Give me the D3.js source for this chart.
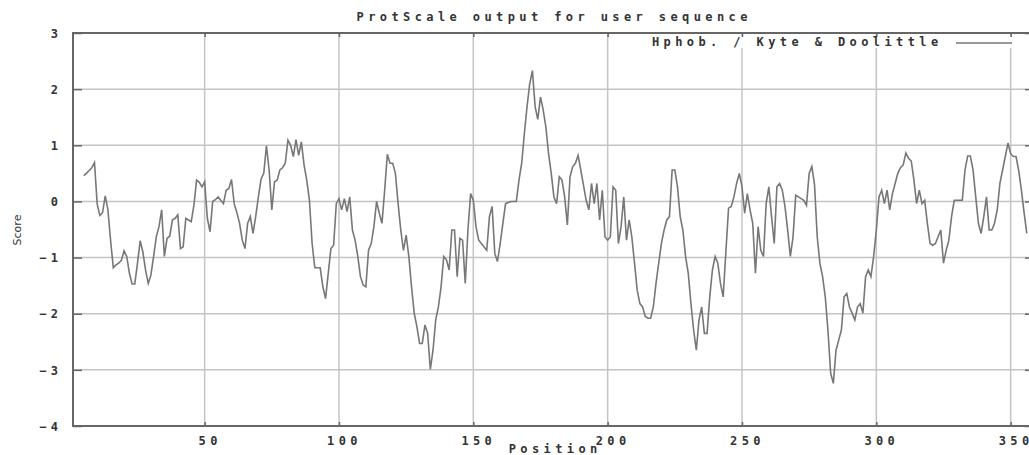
<!DOCTYPE html>
<html><head><meta charset="utf-8">
<script src="https://cdn.jsdelivr.net/npm/d3@7"></script>
<style>html,body{margin:0;padding:0;background:#fff;overflow:hidden}</style>
</head><body><svg id="chart" width="1029" height="455"></svg>
<script>
const title = "ProtScale output for user sequence";
const legendLabel = "Hphob. / Kyte & Doolittle";
const xLabel = "Position";
const yLabel = "Score";
const xTicks = [50, 100, 150, 200, 250, 300, 350];
const yTicks = [-4, -3, -2, -1, 0, 1, 2, 3];
const xDomain = [1, 357.2];
const yDomain = [-4, 3];
const firstPosition = 5;
const scores = [
  0.46, 0.5, 0.55, 0.6, 0.69, -0.05, -0.25, -0.2, 0.1, -0.15,
  -0.7, -1.18, -1.13, -1.1, -1.05, -0.88, -0.98, -1.28, -1.47, -1.47,
  -1.1, -0.7, -0.9, -1.22, -1.46, -1.31, -0.98, -0.63, -0.45, -0.15,
  -0.98, -0.66, -0.62, -0.33, -0.3, -0.24, -0.84, -0.81, -0.3, -0.33,
  -0.36, -0.07, 0.38, 0.34, 0.26, 0.35, -0.3, -0.54, 0.0, 0.03,
  0.08, 0.02, -0.04, 0.2, 0.23, 0.39, -0.04, -0.2, -0.39, -0.69,
  -0.84, -0.39, -0.27, -0.57, -0.27, 0.08, 0.4, 0.5, 0.99, 0.56,
  -0.15, 0.35, 0.38, 0.56, 0.6, 0.68, 1.09, 1.0, 0.8, 1.1,
  0.82, 1.06, 0.65, 0.38, 0.02, -0.75, -1.18, -1.18, -1.18, -1.52,
  -1.73, -1.28, -0.84, -0.78, -0.04, 0.05, -0.15, 0.05, -0.18, 0.08,
  -0.51, -0.69, -0.98, -1.34, -1.49, -1.52, -0.87, -0.75, -0.45, 0.0,
  -0.21, -0.39, 0.2, 0.84, 0.68, 0.68, 0.5, -0.04, -0.51, -0.87,
  -0.6, -0.98, -1.52, -1.99, -2.23, -2.53, -2.53, -2.2, -2.35, -2.99,
  -2.65, -2.11, -1.88, -1.52, -0.98, -1.04, -1.22, -0.51, -0.51, -1.34,
  -0.66, -0.69, -1.46, -0.51, 0.14, 0.02, -0.45, -0.69, -0.75, -0.81,
  -0.87, -0.27, -0.09, -0.93, -1.07, -0.75, -0.39, -0.04, -0.02, 0.0,
  0.0, 0.0, 0.38, 0.68, 1.21, 1.69, 2.1, 2.33, 1.69, 1.46,
  1.86, 1.63, 1.33, 0.85, 0.5, 0.08, -0.04, 0.44, 0.38, 0.08,
  -0.42, 0.44, 0.62, 0.68, 0.82, 0.56, 0.29, 0.02, -0.15, 0.32,
  -0.04, 0.32, -0.33, 0.2, -0.63, -0.69, -0.63, 0.26, 0.2, -0.75,
  -0.45, 0.08, -0.69, -0.33, -0.63, -1.1, -1.58, -1.82, -1.88, -2.05,
  -2.08, -2.08, -1.88, -1.46, -1.1, -0.75, -0.51, -0.33, -0.27, 0.56,
  0.56, 0.26, -0.27, -0.51, -0.98, -1.28, -1.82, -2.29, -2.65, -2.11,
  -1.88, -2.35, -2.35, -1.7, -1.22, -0.98, -1.1, -1.46, -1.7, -0.9,
  -0.12, -0.09, 0.08, 0.32, 0.5, 0.26, -0.21, 0.14, -0.15, -0.39,
  -1.28, -0.45, -0.87, -0.98, -0.04, 0.26, -0.27, -0.75, 0.26, 0.32,
  0.2, -0.09, -0.51, -0.98, -0.63, 0.11, 0.08, 0.05, 0.02, -0.07,
  0.5, 0.62, 0.3, -0.63, -1.1, -1.34, -1.7, -2.3, -3.06, -3.24,
  -2.65, -2.47, -2.29, -1.7, -1.64, -1.88, -1.99, -2.11, -1.88, -1.82,
  -1.99, -1.34, -1.22, -1.34, -0.98, -0.51, 0.08, 0.2, -0.04, 0.2,
  -0.15, 0.14, 0.32, 0.5, 0.6, 0.65, 0.86, 0.77, 0.72, 0.38,
  -0.04, 0.2, -0.04, 0.02, -0.39, -0.75, -0.78, -0.75, -0.63, -0.51,
  -1.1, -0.87, -0.69, -0.27, 0.02, 0.02, 0.02, 0.02, 0.56, 0.81,
  0.81, 0.56, 0.08, -0.39, -0.57, -0.27, 0.08, -0.51, -0.51, -0.39,
  -0.15, 0.32, 0.56, 0.8, 1.04, 0.85, 0.8, 0.8, 0.55, 0.2,
  -0.2, -0.57
];
const positions = scores.map((_, i) => firstPosition + i);

const W = 1029, H = 455;
const m = {left: 73, top: 33, right: 1030, bottom: 426};
const FONT = "'DejaVu Sans Mono', monospace";
const LS = 4.4;
const TXT = "#333";
const GRID = "#c4c4c4";
const FRAME = "#666";
const LINE = "#777";

const svg = d3.select("#chart");
svg.append("rect").attr("width", W).attr("height", H).attr("fill", "#fff");

const x = d3.scaleLinear().domain(xDomain).range([m.left, m.right]);
const y = d3.scaleLinear().domain(yDomain).range([m.bottom, m.top]);

// spaced text without trailing spacing after the last glyph
function spaced(sel, str) {
  sel.text(null);
  sel.append("tspan").attr("letter-spacing", LS).text(str.slice(0, -1));
  sel.append("tspan").attr("letter-spacing", 0).text(str.slice(-1));
}

// grid
const grid = svg.append("g");
grid.selectAll(".gx").data(xTicks).join("line")
  .attr("x1", d => x(d)).attr("x2", d => x(d))
  .attr("y1", m.top).attr("y2", m.bottom)
  .attr("stroke", GRID).attr("stroke-width", 1.5);
grid.selectAll(".gy").data(yTicks.filter(d => d > yDomain[0] && d < yDomain[1])).join("line")
  .attr("x1", m.left).attr("x2", m.right)
  .attr("y1", d => y(d)).attr("y2", d => y(d))
  .attr("stroke", GRID).attr("stroke-width", 1.5);

// key area blanking
svg.append("rect").attr("x", 645).attr("y", 36).attr("width", 385).attr("height", 12).attr("fill", "#fff");

// frame
svg.append("rect").attr("x", m.left).attr("y", m.top)
  .attr("width", m.right - m.left).attr("height", m.bottom - m.top)
  .attr("fill", "none").attr("stroke", FRAME).attr("stroke-width", 2);

// axes with ticks
const axL = svg.append("g").attr("transform", `translate(${m.left},0)`)
  .call(d3.axisLeft(y).tickValues(yTicks).tickSize(-9).tickPadding(15).tickFormat(d3.format("d")));
const axB = svg.append("g").attr("transform", `translate(0,${m.bottom})`)
  .call(d3.axisBottom(x).tickValues(xTicks).tickSize(-4).tickPadding(10).tickFormat(d3.format("d")));
const axT = svg.append("g").attr("transform", `translate(0,${m.top})`)
  .call(d3.axisTop(x).tickValues(xTicks).tickSize(-4).tickFormat(""));
const axR = svg.append("g").attr("transform", `translate(${m.right},0)`)
  .call(d3.axisRight(y).tickValues(yTicks).tickSize(-5).tickFormat(""));
[axL, axB, axT, axR].forEach(a => {
  a.select(".domain").remove();
  a.selectAll(".tick line").attr("stroke", FRAME).attr("stroke-width", 1.5);
  a.selectAll("text").attr("font-family", FONT).attr("font-size", 12).attr("font-weight", "bold")
    .attr("fill", TXT);
});
axL.selectAll("text").attr("dy", "0.35em").each(function(d) { spaced(d3.select(this), d3.format("d")(d)); });
axB.selectAll("text").attr("dx", 2.8).each(function(d) { spaced(d3.select(this), d3.format("d")(d)); });

// data line
const pts = positions.map((p, i) => [p, scores[i]]);
svg.append("path").datum(pts)
  .attr("d", d3.line().x(d => x(d[0])).y(d => y(d[1])))
  .attr("fill", "none").attr("stroke", LINE).attr("stroke-width", 1.6)
  .attr("stroke-linejoin", "miter");

// title
svg.append("text").attr("x", 552).attr("y", 21).attr("text-anchor", "middle")
  .attr("font-family", FONT).attr("font-size", 12).attr("font-weight", "bold")
  .attr("fill", TXT).call(s => spaced(s, title));

// legend
svg.append("text").attr("x", 652).attr("y", 46)
  .attr("font-family", FONT).attr("font-size", 12).attr("font-weight", "bold")
  .attr("fill", TXT).call(s => spaced(s, legendLabel));
svg.append("line").attr("x1", 956).attr("x2", 1012).attr("y1", 43).attr("y2", 43)
  .attr("stroke", LINE).attr("stroke-width", 1.5);

// axis labels
svg.append("text").attr("x", 553).attr("y", 453).attr("text-anchor", "middle")
  .attr("font-family", FONT).attr("font-size", 12).attr("font-weight", "bold")
  .attr("fill", TXT).call(s => spaced(s, xLabel));
svg.append("text").attr("transform", "translate(21,230) rotate(-90)")
  .attr("text-anchor", "middle")
  .attr("font-family", "'DejaVu Sans', sans-serif").attr("font-size", 11)
  .attr("fill", TXT).text(yLabel);
</script></body></html>
